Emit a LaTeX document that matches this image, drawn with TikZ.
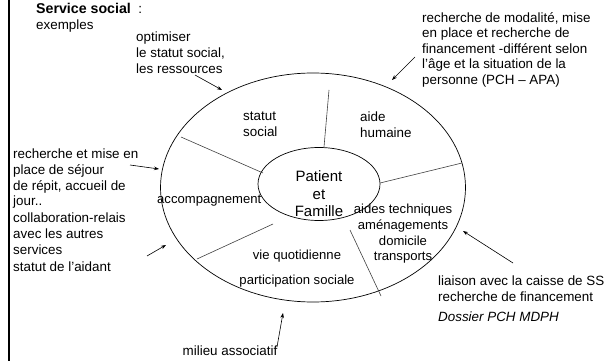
\documentclass[tikz,border=0pt]{standalone}
\usepackage{fontspec}
\setmainfont{Liberation Sans}
\usetikzlibrary{arrows.meta}
\usetikzlibrary{shapes.geometric,positioning}

\begin{document}
\begin{tikzpicture}[x=1pt, y=-1pt,
    txt/.style={inner sep=0pt, align=left, anchor=north west, font=\fontsize{13.4}{15.6}\selectfont},
    part/.style={inner sep=0pt, align=center, font=\fontsize{13.1}{15.6}\selectfont},
    ring/.style={draw, ellipse, inner sep=0pt, line width=0.7pt},
    divider/.style={draw=black!75, line width=0.6pt},
    pointer/.style={-{Stealth[length=5pt,width=3.6pt]}, line width=0.6pt},]
    \useasboundingbox (0,0) rectangle (616,361);
    \draw [line width=2.2pt] (8.7,0) -- (8.7,361);

    % the two rings
    \node (outer) [ring, minimum width=305pt, minimum height=229pt] at (313,187.5) {};
    \node (inner) [ring, minimum width=122pt, minimum height=73pt] at (319,184) {};
    \node (patient) [part, font=\fontsize{15}{17.5}\selectfont] at (319,194) {Patient\\et\\Famille};

    \draw [divider] (324,147) -- (329,90);
    \draw [divider] (263,173) -- (181,137);
    \draw [divider] (380,183) -- (462,163);
    \draw [divider] (273,224) -- (197,259);
    \draw [divider] (350,230) -- (381,296);

    % inside the ring
    \node (statut) [txt] at (243,112) {statut\\social};
    \node (aide) [txt] at (360,112) {aide\\humaine};
    \node (accomp) [part, anchor=west] at (157,201) {accompagnement};
    \node (aides) [part] at (403,234) {aides techniques\\am\'enagements\\domicile\\transports};
    \node (vie) [part] at (297,256) {vie quotidienne};
    \node (particip) [part] at (297,281) {participation sociale};

    % around the ring
    \node (titre) [txt] at (36,3) {{\fontsize{14.2}{15.6}\selectfont\bfseries Service social}\ \ :};
    \node (exemples) [txt] at (36,19.5) {exemples};
    \node (optim) [txt] at (136,32) {optimiser\\le statut social,\\les ressources};
    \node (modalite) [txt] at (422,12) {recherche de modalit\'e, mise\\en place et recherche de\\financement -diff\'erent selon\\l'\^age et la situation de la\\personne (PCH -- APA)};
    \node (repit) [txt] at (13,149) {recherche et mise en\\place de s\'ejour\\de r\'epit, accueil de\\jour..};
    \node (relais) [txt] at (13,213) {collaboration-relais\\avec les autres\\services};
    \node (aidant) [txt] at (13,262) {statut de l'aidant};
    \node (caisse) [txt] at (438,276) {liaison avec la caisse de SS\\recherche de financement};
    \node (dossier) [txt, font=\fontsize{13.4}{15.6}\selectfont\itshape] at (438,312) {Dossier PCH MDPH};
    \node (milieu) [txt, anchor=north] at (230,346) {milieu associatif};

    % arrows
    \coordinate (optimEnd) at (195,75);
    \coordinate (optimTip) at (222,90);
    \coordinate (modaliteEnd) at (415,57);
    \coordinate (modaliteTip) at (392,80);
    \coordinate (repitEnd) at (130,165);
    \coordinate (repitTip) at (159,169);
    \coordinate (relaisEnd) at (147,256);
    \coordinate (relaisTip) at (166,245);
    \coordinate (caisseEnd) at (513,263);
    \coordinate (caisseTip) at (463,231);
    \coordinate (milieuEnd) at (277,347);
    \coordinate (milieuTip) at (283,313);
    \draw [pointer] (optimEnd) -- (optimTip);
    \draw [pointer] (modaliteEnd) -- (modaliteTip);
    \draw [pointer] (repitEnd) -- (repitTip);
    \draw [pointer] (relaisEnd) -- (relaisTip);
    \draw [pointer] (caisseEnd) -- (caisseTip);
    \draw [pointer] (milieuEnd) -- (milieuTip);
\end{tikzpicture}
\end{document}
